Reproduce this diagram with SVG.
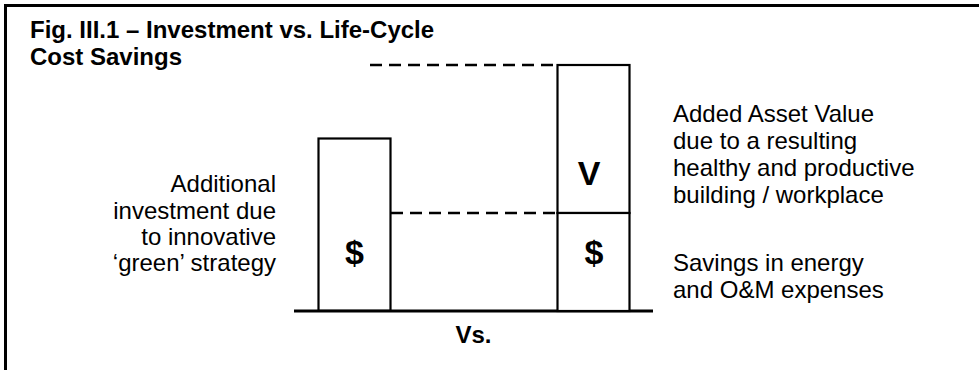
<svg xmlns="http://www.w3.org/2000/svg" width="979" height="370" viewBox="0 0 979 370">
<style>
.t{font-family:"Liberation Sans",Arial,sans-serif;fill:#000}
.title{font-size:24px;font-weight:bold}
.body{font-size:24px}
.big{font-size:34px;font-weight:bold}
.box{fill:#fff;stroke:#000;stroke-width:2.2}
.dash{stroke:#000;stroke-width:2.5;stroke-dasharray:12 7;fill:none}
</style>
<rect width="979" height="370" fill="#fff"/>
<g id="frame">
<line x1="4" y1="5.5" x2="979" y2="5.5" stroke="#000" stroke-width="3"/>
<line x1="5.5" y1="4" x2="5.5" y2="370" stroke="#000" stroke-width="3"/>
</g>
<g id="title">
<text class="t title" x="30" y="38">Fig. III.1 – Investment vs. Life-Cycle</text>
<text class="t title" x="30" y="65">Cost Savings</text>
</g>
<g id="connectors">
<line class="dash" x1="370" y1="65" x2="557" y2="65"/>
<line class="dash" x1="391" y1="213" x2="557" y2="213"/>
<line x1="294" y1="311" x2="653" y2="311" stroke="#000" stroke-width="3"/>
</g>
<g id="investment">
<rect class="box" x="318.5" y="138.5" width="72" height="172"/>
<text class="t big" x="354.5" y="264" text-anchor="middle">$</text>
</g>
<g id="value">
<rect class="box" x="557.5" y="65" width="72" height="148"/>
<text class="t big" x="589" y="185" text-anchor="middle">V</text>
</g>
<g id="savings">
<rect class="box" x="557.5" y="213" width="72" height="98"/>
<text class="t big" x="594" y="264" text-anchor="middle">$</text>
</g>
<g id="label-investment">
<text class="t body" text-anchor="end" x="276" y="192">Additional</text>
<text class="t body" text-anchor="end" x="276" y="218.5">investment due</text>
<text class="t body" text-anchor="end" x="276" y="244.5">to innovative</text>
<text class="t body" text-anchor="end" x="276" y="270.5">‘green’ strategy</text>
</g>
<g id="label-value">
<text class="t body" x="673" y="122">Added Asset Value</text>
<text class="t body" x="673" y="149">due to a resulting</text>
<text class="t body" x="673" y="176">healthy and productive</text>
<text class="t body" x="673" y="203">building / workplace</text>
</g>
<g id="label-savings">
<text class="t body" x="673" y="271">Savings in energy</text>
<text class="t body" x="673" y="297.5">and O&amp;M expenses</text>
</g>
<g id="vs">
<text class="t title" x="473.5" y="343" text-anchor="middle">Vs.</text>
</g>
</svg>
